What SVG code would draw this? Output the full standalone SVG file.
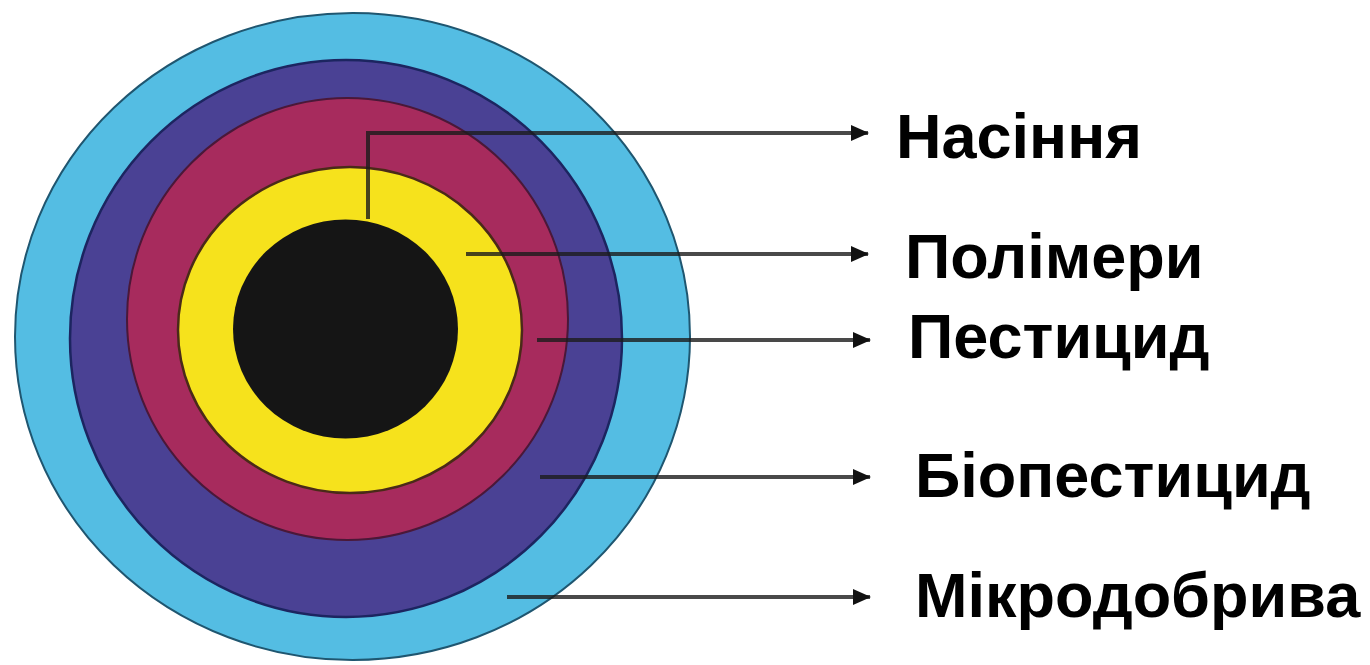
<svg xmlns="http://www.w3.org/2000/svg" width="1370" height="665" viewBox="0 0 1370 665">
  <defs>
    <marker id="arr" markerUnits="userSpaceOnUse" markerWidth="18" markerHeight="16" refX="17" refY="8" orient="auto">
      <path d="M0,0 L18,8 L0,16 z" fill="#111"/>
    </marker>
    <style>
      .lbl { font-family: "Liberation Sans", Arial, sans-serif; font-weight: bold; font-size: 63px; fill: #000; }
      .conn { fill: none; stroke: #1b1b1b; stroke-opacity: 0.8; stroke-width: 4; }
    </style>
  </defs>
  <rect width="1370" height="665" fill="#ffffff"/>
  <g id="layer-microfertilizer">
    <ellipse cx="352.5" cy="336.5" rx="337.5" ry="323.5" fill="#54bde3" stroke="#1f5670" stroke-width="2"/>
  </g>
  <g id="layer-biopesticide">
    <ellipse cx="346" cy="338.5" rx="276" ry="278.5" fill="#4a4194" stroke="#1c2560" stroke-width="2.5"/>
  </g>
  <g id="layer-pesticide">
    <ellipse cx="347.5" cy="319" rx="220.5" ry="221" fill="#a72b5d" stroke="#4a1838" stroke-width="2"/>
  </g>
  <g id="layer-polymer">
    <ellipse cx="350" cy="330" rx="172" ry="163" fill="#f6e21c" stroke="#4a2a18" stroke-width="2.5"/>
  </g>
  <g id="layer-seed">
    <ellipse cx="345.5" cy="329" rx="112.5" ry="109.5" fill="#151515"/>
  </g>
  <g id="connectors">
    <path class="conn" d="M368,219 L368,133 L868,133" marker-end="url(#arr)"/>
    <path class="conn" d="M466,254 L868,254" marker-end="url(#arr)"/>
    <path class="conn" d="M537,340 L870,340" marker-end="url(#arr)"/>
    <path class="conn" d="M540,477 L870,477" marker-end="url(#arr)"/>
    <path class="conn" d="M507,597 L870,597" marker-end="url(#arr)"/>
  </g>
  <g id="labels">
    <text class="lbl" x="896" y="158">Насіння</text>
    <text class="lbl" x="905" y="278">Полімери</text>
    <text class="lbl" x="908" y="358">Пестицид</text>
    <text class="lbl" x="915" y="497">Біопестицид</text>
    <text class="lbl" x="915" y="617">Мікродобрива</text>
  </g>
</svg>
